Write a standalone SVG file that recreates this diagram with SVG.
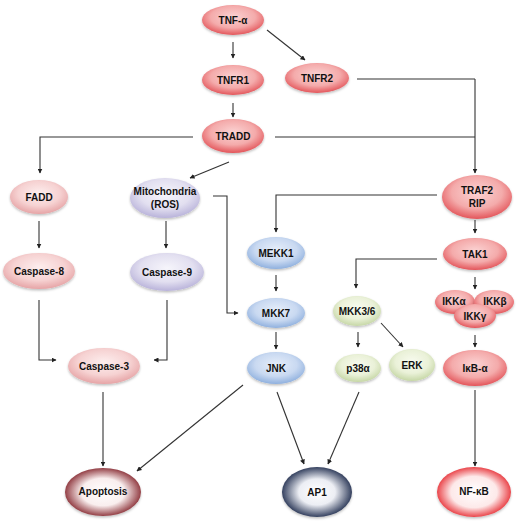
<svg xmlns="http://www.w3.org/2000/svg" width="520" height="522" viewBox="0 0 520 522">
<style>
text{font-family:"Liberation Sans",Arial,sans-serif;font-weight:bold;font-size:10px;fill:#111;text-anchor:middle}
.c{fill:none;stroke:#333;stroke-width:1.1}
.a{marker-end:url(#ah)}
ellipse{filter:url(#sh)}
.red{fill:url(#gRed)}
.pink{fill:url(#gPink)}
.lav{fill:url(#gLav)}
.blue{fill:url(#gBlue)}
.green{fill:url(#gGreen)}
</style>
<defs>
<marker id="ah" viewBox="0 0 10 10" refX="9" refY="5" markerWidth="5" markerHeight="5" orient="auto" markerUnits="userSpaceOnUse"><path d="M0,0 L10,5 L0,10 z" fill="#222"/></marker>
<filter id="sh" x="-20%" y="-20%" width="140%" height="150%"><feDropShadow dx="0" dy="1.5" stdDeviation="1" flood-color="#000" flood-opacity="0.25"/></filter>
<radialGradient id="gRed" cx="50%" cy="40%" r="60%"><stop offset="0" stop-color="#fbd3d3"/><stop offset="0.6" stop-color="#f4abab"/><stop offset="1" stop-color="#e3555a"/></radialGradient>
<radialGradient id="gPink" cx="50%" cy="40%" r="60%"><stop offset="0" stop-color="#fdeeee"/><stop offset="0.6" stop-color="#f6d2d2"/><stop offset="1" stop-color="#e6a4a6"/></radialGradient>
<radialGradient id="gLav" cx="50%" cy="40%" r="60%"><stop offset="0" stop-color="#f6f5fb"/><stop offset="0.6" stop-color="#e2dff0"/><stop offset="1" stop-color="#b9b3da"/></radialGradient>
<radialGradient id="gBlue" cx="50%" cy="40%" r="60%"><stop offset="0" stop-color="#e6eefa"/><stop offset="0.6" stop-color="#c9d9f1"/><stop offset="1" stop-color="#8fb0de"/></radialGradient>
<radialGradient id="gGreen" cx="50%" cy="40%" r="60%"><stop offset="0" stop-color="#f8fbef"/><stop offset="0.6" stop-color="#eaf1d8"/><stop offset="1" stop-color="#c6d7a6"/></radialGradient>
<radialGradient id="gApo" cx="50%" cy="50%" r="52%"><stop offset="0" stop-color="#ffffff"/><stop offset="0.55" stop-color="#f9eeee"/><stop offset="1" stop-color="#8a2f36"/></radialGradient>
<radialGradient id="gAp1" cx="50%" cy="50%" r="52%"><stop offset="0" stop-color="#ffffff"/><stop offset="0.5" stop-color="#eceef4"/><stop offset="1" stop-color="#253252"/></radialGradient>
<radialGradient id="gNfkb" cx="50%" cy="50%" r="52%"><stop offset="0" stop-color="#ffffff"/><stop offset="0.6" stop-color="#fde9e9"/><stop offset="1" stop-color="#e8343a"/></radialGradient>
</defs>

<g id="connectors">
<line class="c a" x1="233" y1="42" x2="233" y2="58"/>
<line class="c a" x1="267" y1="30" x2="305" y2="60"/>
<line class="c a" x1="233" y1="103" x2="233" y2="117"/>
<polyline class="c" points="357,79 475,79"/>
<polyline class="c" points="275,137 475,137"/>
<line class="c a" x1="475" y1="79" x2="475" y2="173"/>
<polyline class="c a" points="193,137 40,137 40,173"/>
<line class="c a" x1="229" y1="162" x2="190" y2="178"/>
<line class="c a" x1="39" y1="221" x2="39" y2="248"/>
<line class="c a" x1="166" y1="221" x2="166" y2="248"/>
<polyline class="c a" points="213,196 227,196 227,313 238,313"/>
<polyline class="c a" points="437,195 276,195 276,232"/>
<line class="c a" x1="475" y1="220" x2="475" y2="233"/>
<polyline class="c a" points="437,259 356,259 356,288"/>
<line class="c a" x1="276" y1="275" x2="276" y2="291"/>
<line class="c a" x1="475" y1="277" x2="475" y2="289"/>
<line class="c a" x1="276" y1="332" x2="276" y2="349"/>
<line class="c a" x1="358" y1="332" x2="358" y2="347"/>
<line class="c a" x1="381" y1="323" x2="403" y2="347"/>
<line class="c a" x1="475" y1="335" x2="475" y2="347"/>
<polyline class="c a" points="39,300 39,360 56,360"/>
<polyline class="c a" points="167,300 167,360 154,360"/>
<line class="c a" x1="103" y1="392" x2="103" y2="466"/>
<line class="c a" x1="243" y1="385" x2="137" y2="471"/>
<line class="c a" x1="277" y1="392" x2="304" y2="464"/>
<line class="c a" x1="359" y1="392" x2="328" y2="464"/>
<line class="c a" x1="475" y1="390" x2="475" y2="466"/>
</g>

<g id="tnfa"><ellipse class="red" cx="233" cy="20" rx="31" ry="15"/><text x="233" y="24">TNF-α</text></g>
<g id="tnfr1"><ellipse class="red" cx="233" cy="80" rx="31" ry="15"/><text x="233" y="84">TNFR1</text></g>
<g id="tnfr2"><ellipse class="red" cx="317" cy="78" rx="32" ry="15"/><text x="317" y="82">TNFR2</text></g>
<g id="tradd"><ellipse class="red" cx="233" cy="136" rx="31" ry="17"/><text x="233" y="140">TRADD</text></g>
<g id="fadd"><ellipse class="pink" cx="39" cy="197" rx="29" ry="17"/><text x="39" y="201">FADD</text></g>
<g id="mito"><ellipse class="lav" cx="165" cy="198" rx="35" ry="20"/><text x="165" y="195">Mitochondria</text><text x="165" y="208">(ROS)</text></g>
<g id="traf2"><ellipse class="red" cx="477" cy="197" rx="35" ry="22"/><text x="477" y="194">TRAF2</text><text x="477" y="207">RIP</text></g>
<g id="casp8"><ellipse class="pink" cx="39" cy="271" rx="36" ry="18"/><text x="39" y="275">Caspase-8</text></g>
<g id="casp9"><ellipse class="lav" cx="167" cy="272" rx="37" ry="19"/><text x="167" y="276">Caspase-9</text></g>
<g id="mekk1"><ellipse class="blue" cx="276" cy="253" rx="29" ry="16"/><text x="276" y="257">MEKK1</text></g>
<g id="tak1"><ellipse class="red" cx="475" cy="254" rx="32" ry="16"/><text x="475" y="258">TAK1</text></g>
<g id="mkk7"><ellipse class="blue" cx="276" cy="313" rx="29" ry="15"/><text x="276" y="317">MKK7</text></g>
<g id="mkk36"><ellipse class="green" cx="357" cy="311" rx="24" ry="15"/><text x="357" y="315">MKK3/6</text></g>
<g id="ikk">
<ellipse class="red" cx="455" cy="302" rx="20" ry="12"/>
<ellipse class="red" cx="494" cy="302" rx="20" ry="12"/>
<ellipse class="red" cx="475" cy="316" rx="21" ry="12"/>
<text x="454" y="305">IKKα</text><text x="495" y="305">IKKβ</text><text x="475" y="320">IKKγ</text>
</g>
<g id="casp3"><ellipse class="pink" cx="104" cy="366" rx="36" ry="18"/><text x="104" y="370">Caspase-3</text></g>
<g id="jnk"><ellipse class="blue" cx="276" cy="368" rx="29" ry="16"/><text x="276" y="372">JNK</text></g>
<g id="p38"><ellipse class="green" cx="358" cy="368" rx="23" ry="14"/><text x="358" y="372">p38α</text></g>
<g id="erk"><ellipse class="green" cx="412" cy="365" rx="23" ry="16"/><text x="412" y="369">ERK</text></g>
<g id="ikba"><ellipse class="red" cx="475" cy="368" rx="32" ry="18"/><text x="475" y="372">IκB-α</text></g>
<g id="apoptosis"><ellipse fill="url(#gApo)" cx="103" cy="492" rx="38" ry="24"/><text x="103" y="495">Apoptosis</text></g>
<g id="ap1"><ellipse fill="url(#gAp1)" cx="317" cy="492" rx="35" ry="25"/><text x="317" y="496">AP1</text></g>
<g id="nfkb"><ellipse fill="url(#gNfkb)" cx="474" cy="492" rx="37" ry="25"/><text x="474" y="495">NF-κB</text></g>
</svg>
